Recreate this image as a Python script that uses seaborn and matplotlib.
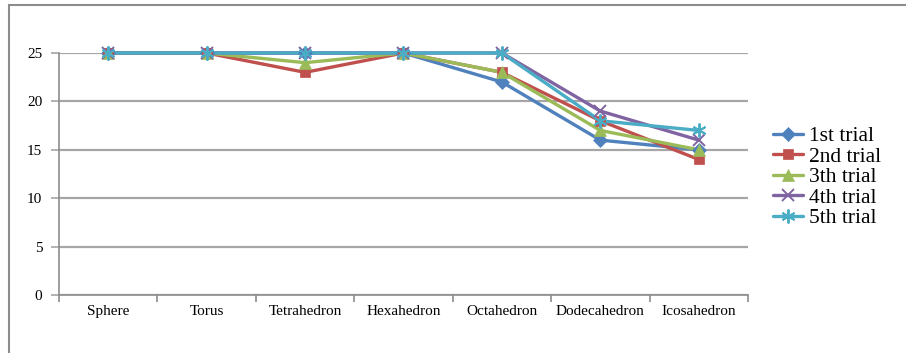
import matplotlib
matplotlib.use("Agg")
import matplotlib.pyplot as plt
from matplotlib.patches import Rectangle
import numpy as np
import pandas as pd
import seaborn as sns

# Shapes tested and the score from each of five trials
shapes = ["Sphere", "Torus", "Tetrahedron", "Hexahedron", "Octahedron",
          "Dodecahedron", "Icosahedron"]
trial_names = ["1st trial", "2nd trial", "3th trial", "4th trial", "5th trial"]
trial1 = [25, 25, 25, 25, 22, 16, 15]
trial2 = [25, 25, 23, 25, 23, 18, 14]
trial3 = [25, 25, 24, 25, 23, 17, 15]
trial4 = [25, 25, 25, 25, 25, 19, 16]
trial5 = [25, 25, 25, 25, 25, 18, 17]
y_ticks = [0, 5, 10, 15, 20, 25]

colors = ["#4F81BD", "#C0504D", "#9BBB59", "#8064A2", "#4BACC6"]
markers = ["D", "s", "^", "x", (6, 2, 0)]
marker_sizes = [7, 7.5, 8.5, 8, 10]

rows = []
for name, vals in zip(trial_names, [trial1, trial2, trial3, trial4, trial5]):
    for i, v in enumerate(vals):
        rows.append({"pos": i, "shape": shapes[i], "trial": name, "score": v})
df = pd.DataFrame(rows)

sns.set_theme(style="white")
plt.rcParams["font.family"] = ["Liberation Serif", "DejaVu Serif"]
plt.rcParams["text.color"] = "black"
plt.rcParams["xtick.labelcolor"] = "black"
plt.rcParams["ytick.labelcolor"] = "black"

fig = plt.figure(figsize=(9.06, 3.53), dpi=100)
ax = fig.add_axes([59 / 906, 1 - 295 / 353, (748 - 59) / 906, (295 - 53) / 353])

sns.lineplot(data=df, x="pos", y="score", hue="trial", hue_order=trial_names,
             palette=colors, sort=False, linewidth=2.4, ax=ax, legend=False,
             zorder=3)

# Markers per series, drawn on top of each line in order
for k, (name, m, ms) in enumerate(zip(trial_names, markers, marker_sizes)):
    sub = df[df["trial"] == name]
    ax.plot(sub["pos"], sub["score"], linestyle="none", marker=m,
            markersize=ms, color=colors[k], markeredgewidth=1.4 if k >= 3 else 0.5,
            zorder=4 + k, clip_on=False)

for line in ax.lines:
    line.set_clip_on(False)

ax.set_xlim(-0.5, len(shapes) - 0.5)
ax.set_ylim(0, 25)
ax.set_yticks(y_ticks)
ax.set_xticks(range(len(shapes)))
ax.set_xticklabels(shapes, fontsize=11)
ax.set_xticks(np.arange(-0.5, len(shapes), 1.0), minor=True)
ax.tick_params(axis="x", which="major", length=0, pad=7)
ax.tick_params(axis="x", which="minor", length=5, width=1.2, color="#8C8C8C",
               direction="out", bottom=True)
ax.tick_params(axis="y", length=6, width=1.2, color="#A6A6A6", direction="out",
               left=True, labelsize=11, pad=6)
ax.set_xlabel("")
ax.set_ylabel("")

ax.yaxis.grid(True, color="#A6A6A6", linewidth=1.6, zorder=0)
ax.xaxis.grid(False)
ax.set_axisbelow(True)
for side in ["top", "right"]:
    ax.spines[side].set_visible(False)
ax.spines["left"].set_color("#8C8C8C")
ax.spines["bottom"].set_color("#8C8C8C")
ax.spines["left"].set_linewidth(1.2)
ax.spines["bottom"].set_linewidth(1.2)

# Legend with line + marker handles
handles = []
for k, (name, m, ms) in enumerate(zip(trial_names, markers, marker_sizes)):
    h, = ax.plot([], [], color=colors[k], linewidth=2.4, marker=m,
                 markersize=ms, markeredgewidth=1.4 if k >= 3 else 0.5)
    handles.append(h)
fig.legend(handles, trial_names, loc="center left",
           bbox_to_anchor=(773 / 906, 1 - 177 / 353), frameon=False,
           fontsize=15.5, handlelength=1.4, handletextpad=0.25,
           labelspacing=0.02, borderpad=0, borderaxespad=0)

# Outer chart frame
fig.patches.append(Rectangle((8.5 / 906, -0.1), 1.2, (353 - 4.5) / 353 + 0.1,
                             transform=fig.transFigure, fill=False,
                             edgecolor="#8C8C8C", linewidth=1.5))

fig.savefig("out.png", dpi=100)
